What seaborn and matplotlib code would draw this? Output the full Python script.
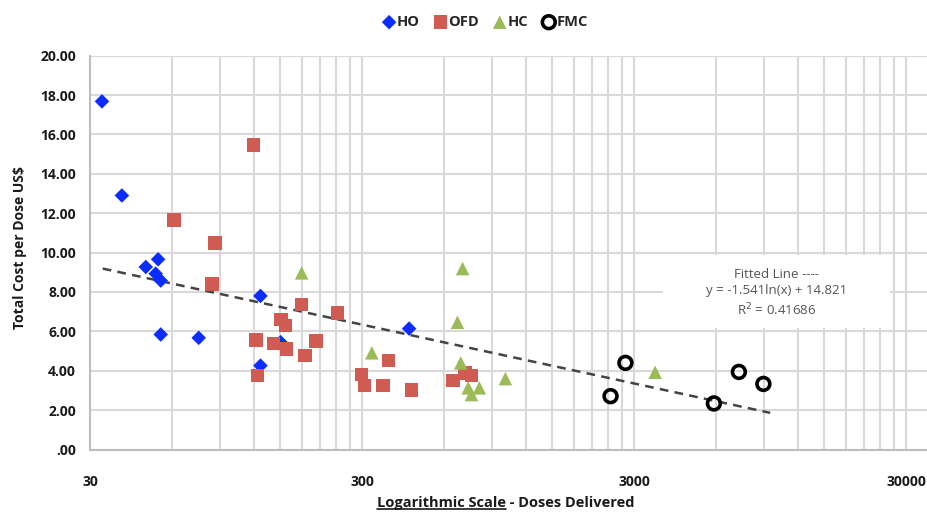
import matplotlib
matplotlib.use("Agg")
import matplotlib.pyplot as plt
import seaborn as sns
import numpy as np
from matplotlib.ticker import FixedLocator, NullFormatter
from matplotlib.lines import Line2D
from matplotlib.patches import Rectangle

# Valores (dosis entregadas, coste por dosis)
ho_doses = [33.2, 39.3, 48.1, 53.4, 52.3, 54.6, 54.6, 75.3, 127, 127, 150.6, 447]
ho_cost = [17.68, 12.90, 9.27, 9.66, 8.93, 8.58, 5.84, 5.67, 7.80, 4.26, 5.45, 6.14]

ofd_doses = [61.1, 86.4, 119.7, 84.2, 122.4, 124, 141.7, 151, 157, 158.5, 180, 185,
             203, 243.6, 299, 307, 359, 375, 457, 648, 718, 758]
ofd_cost = [11.66, 10.49, 15.47, 8.41, 5.55, 3.77, 5.38, 6.60, 6.29, 5.11, 7.36, 4.77,
            5.50, 6.94, 3.81, 3.25, 3.26, 4.53, 3.01, 3.50, 3.89, 3.76]

hc_doses = [180, 326, 703, 673, 692, 737, 758, 810, 1010, 3588]
hc_cost = [8.97, 4.91, 9.19, 6.46, 4.40, 3.13, 2.79, 3.13, 3.60, 3.92]

fmc_doses = [2790, 2460, 5900, 7290, 8970]
fmc_cost = [4.40, 2.71, 2.34, 3.94, 3.33]

# Línea ajustada tal como aparece dibujada
fit_range = [33.4, 9500]
fit_slope = -1.297
fit_intercept = 13.74

major_ticks = [30, 300, 3000, 30000]
y_ticks = list(range(0, 21, 2))

sns.set_style("white")
plt.rcParams['font.family'] = ['Open Sans', 'DejaVu Sans']

fig = plt.figure(figsize=(9.27, 5.16), dpi=100)
ax = fig.add_axes([90 / 927, 1 - 449.5 / 516, 1 - 90 / 927, (449.5 - 55.7) / 516])

grid_color = '#d9d9d9'
ax.set_xscale('log')
ax.set_xlim(30, 30 * 10 ** ((927 - 90) / 272))
ax.set_ylim(0, 20)

# Rejilla: líneas verticales en 30·k·10^n
minor = [30 * k * 10 ** n for n in range(3) for k in range(1, 10)]
for v in minor + [30000]:
    ax.axvline(v, color=grid_color, lw=1.5, zorder=0)
for v in y_ticks:
    ax.axhline(v, color=grid_color, lw=1.5, zorder=0)

ax.xaxis.set_major_locator(FixedLocator(major_ticks))
ax.xaxis.set_minor_locator(FixedLocator([]))
ax.xaxis.set_minor_formatter(NullFormatter())
ax.set_xticks(major_ticks)
ax.set_xticklabels([str(t) for t in major_ticks])
ax.set_yticks(y_ticks)
ax.set_yticklabels(['.00' if t == 0 else f'{t:.2f}' for t in y_ticks])

for s in ['top', 'right']:
    ax.spines[s].set_visible(False)
for s in ['left', 'bottom']:
    ax.spines[s].set_color('#bdbdbd')
    ax.spines[s].set_linewidth(1.5)
ax.tick_params(axis='both', which='major', length=4, width=1.2, color='#bdbdbd',
               labelsize=10, labelcolor='#1a1a1a', pad=6)
ax.tick_params(axis='x', pad=14)
for lab in ax.get_xticklabels() + ax.get_yticklabels():
    lab.set_fontweight('bold')

# Puntos
sns.scatterplot(x=ho_doses, y=ho_cost, marker='D', s=55, color='#0a2cff',
                edgecolor='none', linewidth=0, label='HO', ax=ax, zorder=3)
sns.scatterplot(x=ofd_doses, y=ofd_cost, marker='s', s=95, color='#cf5b52',
                edgecolor='none', linewidth=0, label='OFD', ax=ax, zorder=3)
sns.scatterplot(x=hc_doses, y=hc_cost, marker='^', s=95, color='#9bbb59',
                edgecolor='none', linewidth=0, label='HC', ax=ax, zorder=3)
sns.scatterplot(x=fmc_doses, y=fmc_cost, marker='o', s=85, facecolors='none',
                edgecolor='black', linewidth=2.6, label='FMC', ax=ax, zorder=3)

# Línea de tendencia logarítmica
fx = np.geomspace(fit_range[0], fit_range[1], 100)
fy = fit_slope * np.log(fx) + fit_intercept
ax.plot(fx, fy, color='#444444', lw=1.8, ls=(0, (3.5, 2.5)), zorder=2)

# Cuadro con la ecuación
fig.add_artist(Rectangle((663 / 927, 1 - 328 / 516), 227 / 927, 73 / 516,
                         transform=fig.transFigure, fc='white', ec='none', zorder=4))
fig.text(777 / 927, 1 - 293 / 516, 'Fitted Line ----\ny = -1.541ln(x) + 14.821\nR$^2$ = 0.41686',
         ha='center', va='center', fontsize=9.5, color='#555555', linespacing=1.3, zorder=5)

# Leyenda
handles, labels = ax.get_legend_handles_labels()
ax.get_legend().remove()
fig.legend(handles, labels, loc='center', bbox_to_anchor=(485 / 927, 1 - 22 / 516),
           ncol=4, frameon=False, handletextpad=0.05, columnspacing=0.9,
           prop={'size': 10.5, 'weight': 'bold'}, handlelength=1.0)

fig.text(20 / 927, 1 - 248 / 516, 'Total Cost per Dose US$', rotation=90,
         ha='center', va='center', fontsize=10, fontweight='bold', color='#1a1a1a')

xl = fig.text(506 / 927, 1 - 503 / 516, 'Logarithmic Scale - Doses Delivered',
              ha='center', va='center', fontsize=10.5, fontweight='bold', color='#1a1a1a')

# Subrayado de "Logarithmic Scale"
fig.canvas.draw()
r = fig.canvas.get_renderer()
bb = xl.get_window_extent(r)
tmp = fig.text(0, 0, 'Logarithmic Scale', fontsize=10.5, fontweight='bold')
w = tmp.get_window_extent(r).width
tmp.remove()
y_line = (bb.y0 + 1) / fig.bbox.height
fig.add_artist(Line2D([bb.x0 / fig.bbox.width, (bb.x0 + w) / fig.bbox.width],
                      [y_line, y_line], transform=fig.transFigure,
                      color='#1a1a1a', lw=1.2))

fig.savefig('out.png', dpi=100)
